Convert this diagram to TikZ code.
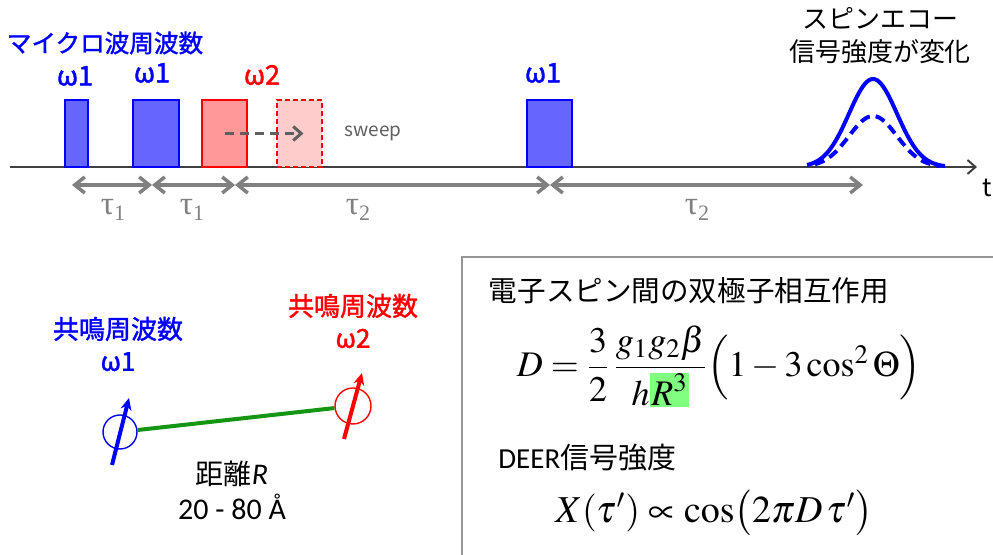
\documentclass[tikz,border=0pt]{standalone}
\usepackage{amsmath}
\usepackage{mathptmx}
\usepackage[no-math]{fontspec}
\setmainfont{Noto Sans CJK JP}
\newfontfamily\jpbold[FakeBold=1.5]{Noto Sans CJK JP}
\newfontfamily\calib{Carlito}
\newfontfamily\tms{Liberation Serif}
\usetikzlibrary{arrows.meta, positioning}

\definecolor{pulseblue}{RGB}{102,102,255}
\definecolor{pulsered}{RGB}{255,153,153}
\definecolor{ghostred}{RGB}{255,204,204}
\definecolor{taugray}{RGB}{128,128,128}
\definecolor{sweepgray}{RGB}{96,96,96}
\definecolor{axisgray}{RGB}{64,64,64}
\definecolor{bondgreen}{RGB}{20,150,20}
\definecolor{hlgreen}{RGB}{128,255,128}
\definecolor{boxgray}{RGB}{150,150,150}

\newcommand{\fs}[1]{\fontsize{#1}{#1}\selectfont}
\newcommand{\taulab}[1]{{\tms\fs{16.5}τ}\raisebox{-3pt}{\tms\fs{11}#1}}

\begin{document}
\begin{tikzpicture}[x=0.5pt, y=-0.5pt,
  pulse/.style={draw, line width=0.75pt, inner sep=0pt, outer sep=0pt,
    anchor=south west, minimum height=33.5pt},
  bluepulse/.style={pulse, draw=blue, fill=pulseblue},
  redpulse/.style={pulse, draw=red, fill=pulsered},
  ghostpulse/.style={pulse, draw=red, fill=ghostred, dash pattern=on 2.5pt off 1.5pt},
  tauarrow/.style={{Straight Barb[length=5pt,width=8pt]}-{Straight Barb[length=5pt,width=8pt]},
    line width=1.75pt, taugray},
  spin/.style={circle, draw, line width=0.7pt, minimum size=17pt, inner sep=0pt},
  spinarrow/.style={-{Stealth[length=6pt,width=5.5pt]}, line width=2pt},
  echo/.style={blue, line width=2pt},
  lab/.style={inner sep=0pt, align=center},
  omega/.style={lab, font=\jpbold\fs{13.5}}]
\useasboundingbox (0,0) rectangle (993,555);

% pulse sequence
\coordinate (t0) at (10,167);
\coordinate (t1) at (977,167);
\draw[axisgray, line width=1pt, -{Straight Barb[length=4pt,width=7pt]}] (t0) -- (t1);
\node[lab, font=\fs{12.5}] (tlab) at (987,188) {t};

\node[bluepulse, minimum width=11.5pt] (p1) at (65,167) {};
\node[bluepulse, minimum width=23pt] (p2) at (133,167) {};
\node[redpulse, minimum width=22.5pt] (p3) at (202,167) {};
\node[ghostpulse, minimum width=22.5pt] (p4) at (277,167) {};
\node[bluepulse, minimum width=22.5pt] (p5) at (527,167) {};

\draw[sweepgray, line width=1.5pt, dash pattern=on 4.5pt off 3pt,
  -{Straight Barb[length=4pt,width=7pt]}] (p3.center) -- ([xshift=2pt]p4.center);
\node[lab, text=sweepgray, font=\fs{9.5}] (sweep) at (373,133) {sweep};

\node[lab, text=blue, font=\jpbold\fs{12.3}] (title) at (105,43) {マイクロ波周波数};
\node[omega, text=blue] (w1a) at (75,76) {ω1};
\node[omega, text=blue] (w1b) at (152,73) {ω1};
\node[omega, text=red] (w2) at (262,75) {ω2};
\node[omega, text=blue] (w1c) at (543,73) {ω1};

% delays
\coordinate (m0) at (72,185);
\coordinate (m1) at (152,185);
\coordinate (m2) at (235,185);
\coordinate (m3) at (550,185);
\coordinate (m4) at (863,185);
\draw[tauarrow] (m0) -- (m1);
\draw[tauarrow] (m1) -- (m2);
\draw[tauarrow] (m2) -- (m3);
\draw[tauarrow] (m3) -- (m4);
\node[lab, text=taugray] (tau1a) at (113,210) {\taulab{1}};
\node[lab, text=taugray] (tau1b) at (192,210) {\taulab{1}};
\node[lab, text=taugray] (tau2a) at (358,210) {\taulab{2}};
\node[lab, text=taugray] (tau2b) at (697,210) {\taulab{2}};

% echo
\draw[echo] plot[domain=807:945, samples=70, smooth]
  (\x, {167-88*exp(-((\x-873)^2)/1152)});
\draw[echo, dash pattern=on 5pt off 3pt] plot[domain=815:940, samples=70, smooth]
  (\x, {167-51*exp(-((\x-873)^2)/1152)});
\node[lab, font=\fontsize{13}{16.5}\selectfont] (echolab) at (880,36) {スピンエコー\\信号強度が変化};

% spins
\node[spin, draw=blue] (s1) at (120,432) {};
\node[spin, draw=red, minimum size=18pt] (s2) at (353,406) {};
\draw[bondgreen, line width=2pt] (s1) -- (s2);
\coordinate (a1) at (112,465);
\coordinate (b1) at (129,398);
\coordinate (a2) at (344,439);
\coordinate (b2) at (362,373);
\draw[spinarrow, blue] (a1) -- (b1);
\draw[spinarrow, red] (a2) -- (b2);
\node[lab, text=blue, font=\jpbold\fontsize{13}{16}\selectfont] (res1) at (118,344) {共鳴周波数\\ω1};
\node[lab, text=red, font=\jpbold\fontsize{13}{16}\selectfont] (res2) at (353,321) {共鳴周波数\\ω2};
\node[lab, font=\fontsize{14}{17.5}\selectfont] (dist) at (232,490) {距離{\calib\itshape\fs{15}R}\\{\calib\fs{15}20 - 80 Å}};

% formula box
\coordinate (f0) at (462,555);
\coordinate (f1) at (462,257);
\coordinate (f2) at (993,257);
\draw[boxgray, line width=1pt] (f0) -- (f1) -- (f2);
\node[lab, font=\fs{14.3}] (dtitle) at (689,291) {電子スピン間の双極子相互作用};
\node[lab, font=\fs{18}] (dform) at (719,366) {$D=\dfrac{3}{2}\,\dfrac{g_1g_2\beta}{h{\setlength{\fboxsep}{0.8pt}\colorbox{hlgreen}{$R^{3}$}}}\Bigl(1-3\cos^{2}\Theta\Bigr)$};
\node[lab, anchor=west, font=\fs{14.5}] (deer) at (498,458) {{\calib DEER}信号強度};
\node[lab, font=\fs{19}] (xform) at (714,513) {$X(\tau')\propto\cos\bigl(2\pi D\,\tau'\bigr)$};
\end{tikzpicture}
\end{document}
